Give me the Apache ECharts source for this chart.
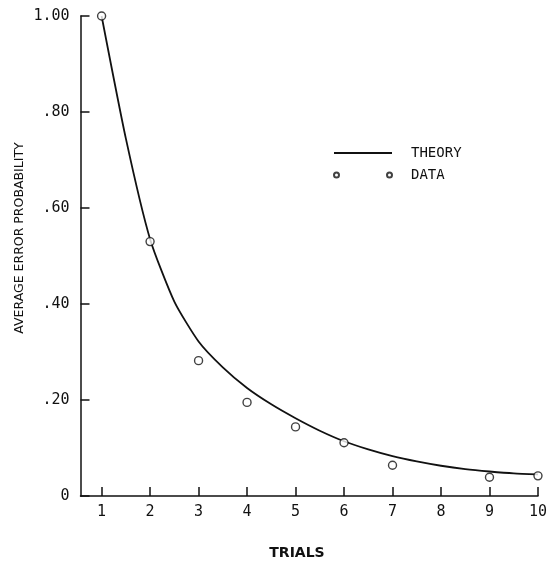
<!doctype html>
<html lang="en">
<head>
    <meta charset="UTF-8">
    <title>Average error probability</title>
    <script src="https://cdn.jsdelivr.net/npm/echarts@6/dist/echarts.min.js"></script>
    <style>
        html, body { margin: 0; padding: 0; background: #fff; }
        #chart { width: 550px; height: 564px; }
    </style>
</head>
<body>
<div id="chart"></div>
<script>
    // observed points (trial 8 has no data point)
    var dataTrials = [1, 2, 3, 4, 5, 6, 7, 9, 10];
    var dataError = [1.00, 0.530, 0.282, 0.195, 0.144, 0.111, 0.064, 0.039, 0.042];

    // theory curve
    var theoryTrials = [1, 1.5, 2, 2.5, 3, 3.5, 4, 4.5, 5, 5.5, 6, 6.5, 7, 7.5, 8, 8.5, 9, 9.5, 10];
    var theoryError = [1.00, 0.745, 0.535, 0.405, 0.322, 0.268, 0.225, 0.191, 0.162, 0.136, 0.114, 0.097, 0.083, 0.072, 0.063, 0.056, 0.051, 0.047, 0.045];

    var xTicks = [1, 2, 3, 4, 5, 6, 7, 8, 9, 10];
    var yTickLabels = ['0', '.20', '.40', '.60', '.80', '1.00'];

    var font = '"DejaVu Sans Mono", monospace';

    var chart = echarts.init(document.getElementById('chart'));
    var option = {
        animation: false,
        backgroundColor: '#fff',
        grid: { left: 80.5, top: 16, right: 10, bottom: 68 },
        legend: {
            orient: 'vertical',
            left: 328,
            top: 141,
            itemWidth: 58,
            itemHeight: 14,
            itemGap: 8,
            textStyle: { fontFamily: font, fontSize: 14, color: '#111', padding: [0, 0, 0, 14] },
            data: [
                { name: 'THEORY', icon: 'path://M0,0H58V1.8H0Z', itemStyle: { color: '#111', borderWidth: 0 } },
                { name: 'DATA', icon: 'path://M0,2.5a2.5,2.5 0 1,0 5,0a2.5,2.5 0 1,0 -5,0M53,2.5a2.5,2.5 0 1,0 5,0a2.5,2.5 0 1,0 -5,0' }
            ]
        },
        xAxis: {
            type: 'value',
            min: 0.565,
            max: 10,
            splitLine: { show: false },
            axisLine: { lineStyle: { color: '#111', width: 1.5 } },
            axisTick: { inside: true, length: 9, customValues: xTicks, lineStyle: { color: '#111', width: 1.5 } },
            axisLabel: { customValues: xTicks, margin: 9, fontFamily: font, fontSize: 15, color: '#111' }
        },
        yAxis: {
            type: 'value',
            min: 0,
            max: 1,
            interval: 0.2,
            splitLine: { show: false },
            axisLine: { show: true, lineStyle: { color: '#111', width: 1.5 } },
            axisTick: { inside: true, length: 9, lineStyle: { color: '#111', width: 1.5 } },
            axisLabel: {
                margin: 11,
                fontFamily: font,
                fontSize: 15,
                color: '#111',
                formatter: function (v) { return yTickLabels[Math.round(v * 5)]; }
            }
        },
        graphic: [
            {
                type: 'text',
                x: 20, y: 238,
                rotation: Math.PI / 2,
                style: {
                    text: 'AVERAGE ERROR PROBABILITY',
                    fontFamily: '"DejaVu Sans", sans-serif',
                    fontSize: 12.5,
                    fill: '#111',
                    align: 'center',
                    verticalAlign: 'middle'
                }
            },
            {
                type: 'text',
                x: 297, y: 553,
                style: {
                    text: 'TRIALS',
                    fontFamily: '"DejaVu Sans", sans-serif',
                    fontSize: 14,
                    fontWeight: 'bold',
                    fill: '#111',
                    align: 'center',
                    verticalAlign: 'middle'
                }
            }
        ],
        series: [
            {
                name: 'THEORY',
                type: 'line',
                smooth: 0.2,
                symbol: 'none',
                lineStyle: { color: '#111', width: 1.8 },
                itemStyle: { color: '#111' },
                data: theoryTrials.map(function (t, i) { return [t, theoryError[i]]; }),
                z: 2
            },
            {
                name: 'DATA',
                type: 'scatter',
                symbol: 'circle',
                symbolSize: 8,
                itemStyle: { color: '#fff', borderColor: '#111', borderWidth: 1.4 },
                data: dataTrials.map(function (t, i) { return [t, dataError[i]]; }),
                z: 3
            }
        ]
    };
    chart.setOption(option);
</script>
</body>
</html>
